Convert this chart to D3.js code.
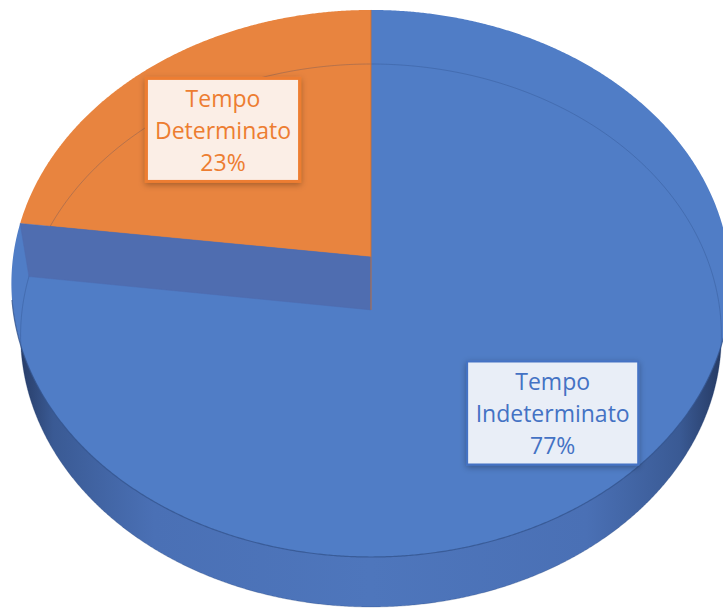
<!DOCTYPE html>
<html>
<head>
<meta charset="utf-8">
<script src="https://cdn.jsdelivr.net/npm/d3@7"></script>
<style>
  html, body { margin: 0; padding: 0; background: #fff; overflow: hidden; }
</style>
</head>
<body>
<div id="chart"></div>
<script>
// data
var categories = ["Tempo Indeterminato", "Tempo Determinato"];
var values = [77, 23];
var topColors = ["#507dc6", "#e8843f"];
var wallColors = ["#4f6db0", "#c96e30"];
var textColors = ["#4472c4", "#ed7d31"];
var boxFills = ["#e9eef7", "#fbeee6"];
var labelRadius = [0.727, 0.655];

var W = 723, H = 608,
    cx = 371, cy = 257,
    focal = 2416, dist = 6.75,
    tilt = 49.2 * Math.PI / 180,
    thick = 0.232;
var sinT = Math.sin(tilt), cosT = Math.cos(tilt);

// perspective projection of a point on the disc (angle clockwise from 12 o'clock)
function proj(a, r, z) {
    var x = r * Math.sin(a), y = r * Math.cos(a);
    var depth = dist + y * cosT - z * sinT;
    var up = y * sinT + z * cosT;
    return [cx + focal * x / depth, cy - focal * up / depth];
}
function rim(a0, a1, z) {
    var n = Math.max(2, Math.ceil(Math.abs(a1 - a0) / 0.005));
    return d3.range(n + 1).map(i => proj(a0 + (a1 - a0) * i / n, 1, z));
}
var line = d3.line();

var total = d3.sum(values);
var pie = d3.pie().sort(null).startAngle(0).endAngle(2 * Math.PI);
var arcs = pie(values);

var svg = d3.select("#chart").append("svg")
    .attr("width", W)
    .attr("height", H);

var defs = svg.append("defs");
var side = defs.append("linearGradient")
    .attr("id", "side")
    .attr("gradientUnits", "userSpaceOnUse")
    .attr("x1", 10).attr("x2", 730).attr("y1", 0).attr("y2", 0);
[[0, "#22345a"], [0.06, "#3a5a94"], [0.2, "#4a70b5"], [0.5, "#4e76bc"],
 [0.8, "#4a70b5"], [0.93, "#3a5a94"], [1, "#22345a"]].forEach(s => {
    side.append("stop").attr("offset", s[0]).attr("stop-color", s[1]);
});
var shadow = defs.append("filter").attr("id", "shadow")
    .attr("x", "-20%").attr("y", "-20%").attr("width", "140%").attr("height", "140%");
shadow.append("feDropShadow")
    .attr("dx", 0).attr("dy", 2).attr("stdDeviation", 3)
    .attr("flood-color", "#000").attr("flood-opacity", 0.3);

// side band (bottom disc, covered by the top faces)
svg.append("path")
    .attr("d", line(rim(0, 2 * Math.PI, -thick)) + "Z")
    .attr("fill", "url(#side)");

// top faces
svg.selectAll(".slice")
    .data(arcs)
    .enter().append("path")
    .attr("class", "slice")
    .attr("d", d => line([proj(0, 0, 0)].concat(rim(d.startAngle, d.endAngle, 0))) + "Z")
    .attr("fill", (d, i) => topColors[i]);

// faint outline of the lower rim
svg.append("path")
    .attr("d", line(rim(0, 2 * Math.PI, -thick)) + "Z")
    .attr("fill", "none")
    .attr("stroke", "#1f3a70")
    .attr("stroke-opacity", 0.25)
    .attr("stroke-width", 1);

// front edge of the top face
svg.append("path")
    .attr("d", line(rim(0.55 * Math.PI, 1.45 * Math.PI, 0)))
    .attr("fill", "none")
    .attr("stroke", "#34558f")
    .attr("stroke-opacity", 0.8)
    .attr("stroke-width", 1.2);

// radial wall at each slice end
svg.selectAll(".wall")
    .data(arcs)
    .enter().append("path")
    .attr("class", "wall")
    .attr("d", d => line([
        proj(0, 0, 0), proj(d.endAngle, 1, 0),
        proj(d.endAngle, 1, -thick), proj(0, 0, -thick)
    ]) + "Z")
    .attr("fill", (d, i) => wallColors[i])
    .attr("stroke", (d, i) => wallColors[i])
    .attr("stroke-width", 0.5);

// data labels
var lineH = 32, fontSize = 23, padX = 8.5;
var labels = svg.selectAll(".lbl")
    .data(arcs)
    .enter().append("g")
    .attr("class", "lbl")
    .attr("transform", (d, i) => {
        var p = proj((d.startAngle + d.endAngle) / 2, labelRadius[i], 0);
        return "translate(" + p[0] + "," + p[1] + ")";
    });

labels.each(function (d, i) {
    var g = d3.select(this);
    var words = categories[i].split(" ");
    var lines = [words[0], words.slice(1).join(" "), Math.round(d.value / total * 100) + "%"];
    var rect = g.append("rect").attr("filter", "url(#shadow)");
    var txt = g.append("text")
        .attr("text-anchor", "middle")
        .attr("font-family", "'Open Sans', sans-serif")
        .attr("font-size", fontSize)
        .attr("fill", textColors[i]);
    lines.forEach((t, k) => {
        txt.append("tspan").attr("x", 0).attr("y", (k - 1) * lineH + 9).text(t);
    });
    var w = txt.node().getBBox().width + 2 * padX;
    var h = 103;
    rect.attr("x", -w / 2).attr("y", -h / 2)
        .attr("width", w).attr("height", h)
        .attr("fill", boxFills[i])
        .attr("stroke", textColors[i])
        .attr("stroke-width", i === 1 ? 3 : 2);
});
</script>
</body>
</html>
